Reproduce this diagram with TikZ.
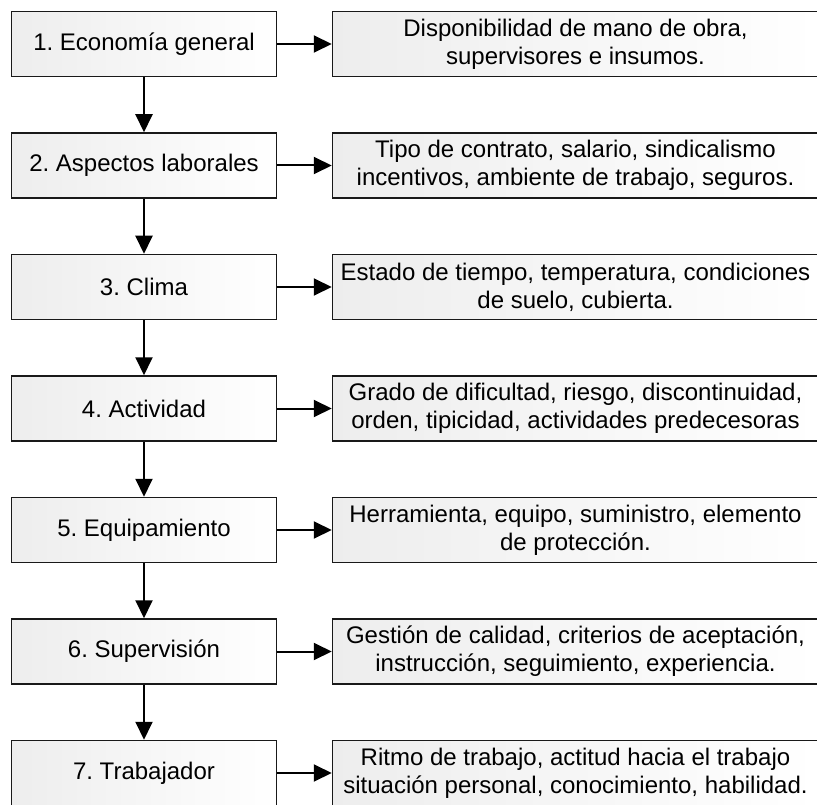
\documentclass[tikz,border=0pt]{standalone}
\usepackage{fontspec}
\setmainfont{Liberation Sans}
\frenchspacing
\usetikzlibrary{positioning,arrows.meta}
\tikzset{
  leftbox/.style={draw=black!90,line width=1.5pt,minimum width=265pt,minimum height=65pt,
    inner sep=2pt,shading=axis,left color=gray!14,right color=white,
    font=\fontsize{24}{28}\selectfont},
  rightbox/.style={leftbox,minimum width=486pt,align=center},
  flecha/.style={line width=2pt,-{Triangle[length=18pt,width=17pt]}}
}
\begin{document}
\begin{tikzpicture}
\useasboundingbox (0,0) rectangle (817pt,-805pt);
\node[leftbox] (e1) at (144pt,-44pt) {1. Economía general};
\node[leftbox,below=55pt of e1] (e2) {2. Aspectos laborales};
\node[leftbox,below=55pt of e2] (e3) {3. Clima};
\node[leftbox,below=55pt of e3] (e4) {4. Actividad};
\node[leftbox,below=55pt of e4] (e5) {5. Equipamiento};
\node[leftbox,below=55pt of e5] (e6) {6. Supervisión};
\node[leftbox,below=55pt of e6] (e7) {7. Trabajador};
\node[rightbox,right=54.5pt of e1] (d1) {Disponibilidad de mano de obra,\\supervisores e insumos.};
\node[rightbox,right=54.5pt of e2] (d2) {Tipo de contrato, salario, sindicalismo\\incentivos, ambiente de trabajo, seguros.};
\node[rightbox,right=54.5pt of e3] (d3) {Estado de tiempo, temperatura, condiciones\\de suelo, cubierta.};
\node[rightbox,right=54.5pt of e4] (d4) {Grado de dificultad, riesgo, discontinuidad,\\orden, tipicidad, actividades predecesoras};
\node[rightbox,right=54.5pt of e5] (d5) {Herramienta, equipo, suministro, elemento\\de protección.};
\node[rightbox,right=54.5pt of e6] (d6) {Gestión de calidad, criterios de aceptación,\\instrucción, seguimiento, experiencia.};
\node[rightbox,right=54.5pt of e7] (d7) {Ritmo de trabajo, actitud hacia el trabajo\\situación personal, conocimiento, habilidad.};
\foreach \i in {1,...,7}
  \draw[flecha] (e\i) -- (d\i);
\foreach \i/\j in {1/2,2/3,3/4,4/5,5/6,6/7}
  \draw[flecha] (e\i) -- (e\j);
\end{tikzpicture}
\end{document}
